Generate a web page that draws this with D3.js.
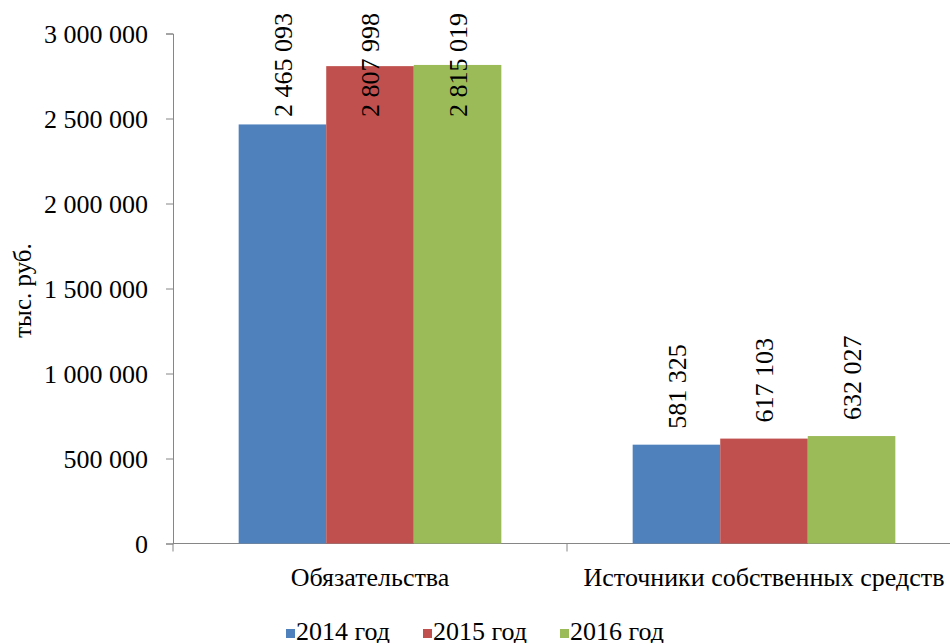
<!DOCTYPE html>
<html>
<head>
<meta charset="utf-8">
<script src="https://cdn.jsdelivr.net/npm/d3@7"></script>
</head>
<body style="margin:0; background:#fff">
<div id="chart"></div>
<script>
// Data
const categories = ["Обязательства", "Источники собственных средств"];
const years = ["2014 год", "2015 год", "2016 год"];
const values2014 = [2465093, 581325];
const values2015 = [2807998, 617103];
const values2016 = [2815019, 632027];
const yTicks = [0, 500000, 1000000, 1500000, 2000000, 2500000, 3000000];
const colors = ["#4F81BD", "#C0504D", "#9BBB59"];

const seriesValues = [values2014, values2015, values2016];

let width = 950, height = 643;
let plotLeft = 173, plotRight = 961, plotTop = 33.5, plotBottom = 543.5;
let fontSize = 26;
let fontFam = "'Liberation Serif', 'Times New Roman', serif";

function serifText(sel, size) {
  return sel.attr("font-family", fontFam)
    .style("font-family", fontFam, "important")
    .style("font-size", size + "px", "important")
    .style("fill", "#000", "important");
}

let svg = d3.select("#chart").append("svg")
  .attr("width", width)
  .attr("height", height)
  .attr("font-family", fontFam);

let ru = d3.formatLocale({ decimal: ",", thousands: " ", grouping: [3], currency: ["", ""] });
let fmt = ru.format(",d");

let y = d3.scaleLinear().domain([0, 3000000]).range([plotBottom, plotTop]);
let x0 = d3.scaleBand().domain(categories).range([plotLeft, plotRight]);
let x1 = d3.scaleBand().domain(years).range([0, x0.bandwidth()]).paddingOuter(0.75);

// Y axis
let yAxis = svg.append("g")
  .attr("transform", "translate(" + plotLeft + ",0)")
  .call(d3.axisLeft(y).tickValues(yTicks).tickFormat(fmt).tickSize(7).tickPadding(18));
yAxis.attr("font-family", fontFam);
yAxis.select(".domain").attr("stroke", "#868686");
yAxis.selectAll(".tick line").attr("stroke", "#868686");
yAxis.selectAll(".tick text")
  .call(serifText, fontSize)
  .attr("dy", "0.36em");

// X axis
let xAxis = svg.append("g")
  .attr("transform", "translate(0," + plotBottom + ")");
xAxis.append("line")
  .attr("x1", plotLeft).attr("x2", plotRight)
  .attr("stroke", "#868686");
xAxis.selectAll("line.cat")
  .data(categories.slice(1))
  .enter().append("line")
  .attr("class", "cat")
  .attr("x1", d => x0(d)).attr("x2", d => x0(d))
  .attr("y1", 0).attr("y2", 8)
  .attr("stroke", "#868686");
xAxis.append("line")
  .attr("x1", plotLeft).attr("x2", plotLeft).attr("y1", 0).attr("y2", 8)
  .attr("stroke", "#868686");
xAxis.selectAll("text.cat")
  .data(categories)
  .enter().append("text")
  .attr("class", "cat")
  .attr("x", d => x0(d) + x0.bandwidth() / 2)
  .attr("y", 42)
  .attr("text-anchor", "middle")
  .call(serifText, 26)
  .text(d => d);

// Y axis title
svg.append("text")
  .attr("transform", "translate(31," + ((plotTop + plotBottom) / 2 + 2) + ") rotate(-90)")
  .attr("text-anchor", "middle")
  .call(serifText, 25)
  .text("тыс. руб.");

// Bars
let groups = svg.append("g").selectAll("g")
  .data(categories)
  .enter().append("g")
  .attr("transform", d => "translate(" + x0(d) + ",0)");

let cells = groups.selectAll("g")
  .data((c, i) => years.map((yr, s) => ({ year: yr, value: seriesValues[s][i], color: colors[s] })))
  .enter().append("g");

cells.append("rect")
  .attr("x", d => x1(d.year))
  .attr("y", d => y(d.value))
  .attr("width", x1.bandwidth())
  .attr("height", d => plotBottom - y(d.value))
  .attr("fill", d => d.color);

// Data labels, rotated; pushed down when they would run off the top
cells.append("text")
  .call(serifText, fontSize)
  .attr("dy", "0.35em")
  .text(d => fmt(d.value))
  .each(function (d) {
    let len = this.getComputedTextLength();
    let start = Math.max(y(d.value) - 16, 13 + len);
    d3.select(this).attr("transform",
      "translate(" + (x1(d.year) + x1.bandwidth() / 2) + "," + start + ") rotate(-90)");
  });

// Legend
let legend = svg.append("g").attr("transform", "translate(286," + (height - 3) + ")");
let lx = 0;
years.forEach((yr, i) => {
  let item = legend.append("g").attr("transform", "translate(" + lx + ",0)");
  item.append("rect")
    .attr("x", 0).attr("y", -11)
    .attr("width", 9).attr("height", 9)
    .attr("fill", colors[i]);
  let t = item.append("text")
    .attr("x", 10)
    .call(serifText, fontSize)
    .text(yr);
  lx += 10 + t.node().getComputedTextLength() + 33;
});
</script>
</body>
</html>
